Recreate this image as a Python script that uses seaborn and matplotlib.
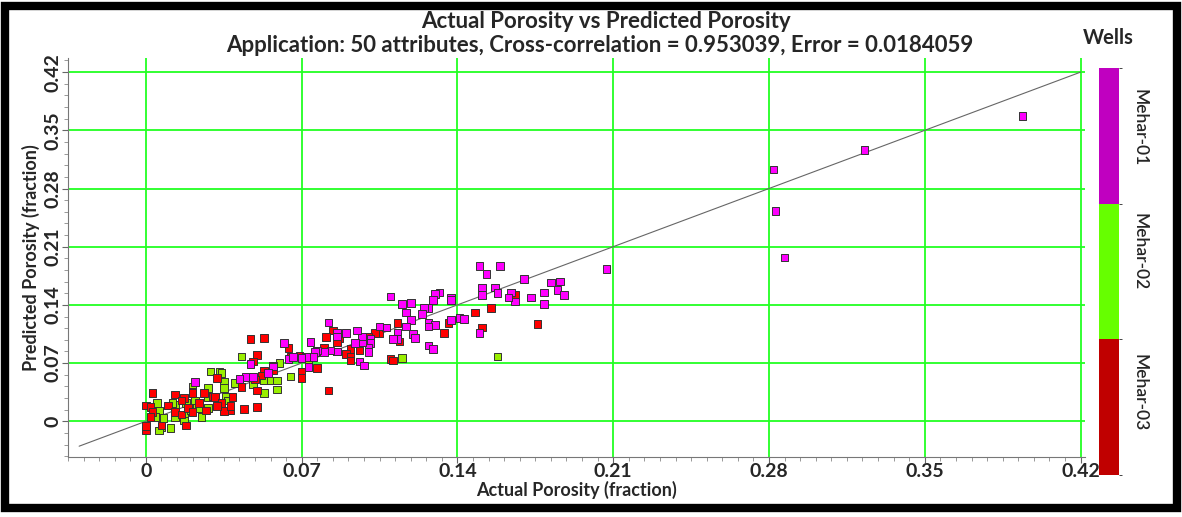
import matplotlib
matplotlib.use("Agg")
import matplotlib.pyplot as plt
import numpy as np
import pandas as pd
import seaborn as sns
from matplotlib.colors import ListedColormap, BoundaryNorm
from matplotlib.cm import ScalarMappable
from matplotlib.patches import Rectangle
from matplotlib.ticker import MultipleLocator

# ---- data: actual vs predicted porosity per well ----
wells = ["Mehar-01", "Mehar-02", "Mehar-03"]

actual_01 = [0.394, 0.323, 0.282, 0.283, 0.287, 0.207,
             0.170, 0.182, 0.186, 0.185, 0.188, 0.179, 0.173, 0.179, 0.166, 0.164,
             0.150, 0.159, 0.153, 0.151, 0.157, 0.151, 0.158, 0.163, 0.150,
             0.141, 0.143, 0.137, 0.132, 0.130, 0.129, 0.137, 0.137, 0.127, 0.125,
             0.119, 0.115, 0.117, 0.124, 0.119, 0.117, 0.127, 0.130, 0.127, 0.120,
             0.121, 0.127, 0.129,
             0.110, 0.113, 0.113, 0.111, 0.108, 0.105, 0.101, 0.101, 0.100, 0.100,
             0.097, 0.097, 0.095, 0.094, 0.096, 0.098, 0.090, 0.086, 0.086, 0.082,
             0.086, 0.083, 0.080, 0.077, 0.076, 0.075, 0.074, 0.072, 0.070, 0.066,
             0.073, 0.062, 0.064, 0.066, 0.047, 0.057, 0.055, 0.045, 0.048, 0.042,
             0.022]
predicted_01 = [0.367, 0.326, 0.303, 0.253, 0.197, 0.183,
                0.171, 0.167, 0.168, 0.158, 0.152, 0.155, 0.149, 0.141, 0.144, 0.155,
                0.187, 0.187, 0.177, 0.161, 0.161, 0.152, 0.154, 0.149, 0.106,
                0.124, 0.123, 0.122, 0.155, 0.153, 0.146, 0.149, 0.146, 0.136, 0.136,
                0.142, 0.141, 0.131, 0.129, 0.122, 0.114, 0.119, 0.116, 0.114, 0.105,
                0.100, 0.091, 0.087,
                0.150, 0.106, 0.099, 0.099, 0.113, 0.114, 0.099, 0.094, 0.088, 0.083,
                0.095, 0.102, 0.109, 0.094, 0.072, 0.067, 0.106, 0.106, 0.102, 0.119,
                0.084, 0.085, 0.083, 0.085, 0.083, 0.077, 0.095, 0.077, 0.076, 0.078,
                0.065, 0.094, 0.075, 0.077, 0.069, 0.066, 0.058, 0.053, 0.053, 0.051,
                0.047]

actual_02 = [0.158, 0.115, 0.073, 0.065, 0.043, 0.060, 0.057, 0.053, 0.056, 0.059,
             0.059, 0.053, 0.048, 0.040, 0.036, 0.035, 0.033, 0.029, 0.028, 0.021,
             0.034, 0.035, 0.028, 0.037, 0.005, 0.013, 0.006, 0.004, 0.017, 0.007,
             0.011, 0.013, 0.020, 0.023, 0.025, 0.022, 0.006, 0.012, 0.018, 0.017,
             0.024, 0.028, 0.025, 0.008]
predicted_02 = [0.078, 0.076, 0.073, 0.054, 0.078, 0.070, 0.067, 0.049, 0.049, 0.049,
                0.038, 0.034, 0.045, 0.046, 0.029, 0.047, 0.059, 0.060, 0.040, 0.042,
                0.058, 0.040, 0.029, 0.025, 0.022, 0.020, 0.013, 0.005, 0.008, -0.007,
                -0.008, 0.005, 0.013, 0.017, 0.010, 0.025, -0.011, 0.022, 0.022, 0.001,
                0.016, 0.016, 0.005, 0.004]

actual_03 = [0.176, 0.166, 0.155, 0.148, 0.151, 0.136, 0.134, 0.114, 0.113, 0.110,
             0.111, 0.105, 0.103, 0.100, 0.096, 0.092, 0.090, 0.092, 0.092, 0.087,
             0.086, 0.084, 0.081, 0.086, 0.080, 0.069, 0.065, 0.077, 0.070, 0.070,
             0.082, 0.047, 0.053, 0.064, 0.050, 0.048, 0.057, 0.053, 0.052, 0.050,
             0.049, 0.043, 0.039, 0.032, 0.021, 0.030,
             0.003, 0.013, 0.017, 0.021, 0.026, 0.031, 0.034, 0.038, 0.035, 0.000,
             0.002, 0.003, 0.002, 0.007, 0.000, 0.000, 0.010, 0.013, 0.016, 0.019,
             0.018, 0.021, 0.027, 0.024, 0.016, 0.044, 0.050, 0.038, 0.032]
predicted_03 = [0.117, 0.152, 0.136, 0.131, 0.113, 0.118, 0.106, 0.096, 0.118, 0.075,
                0.073, 0.106, 0.106, 0.101, 0.085, 0.087, 0.081, 0.077, 0.073, 0.100,
                0.095, 0.109, 0.101, 0.084, 0.088, 0.079, 0.078, 0.064, 0.060, 0.052,
                0.037, 0.099, 0.100, 0.088, 0.080, 0.072, 0.061, 0.061, 0.055, 0.037,
                0.050, 0.041, 0.029, 0.052, 0.035, 0.030,
                0.034, 0.032, 0.028, 0.034, 0.034, 0.029, 0.022, 0.013, 0.012, 0.019,
                0.017, 0.011, 0.005, -0.005, -0.011, -0.006, 0.019, 0.011, 0.008, 0.016,
                -0.005, 0.011, 0.013, 0.022, 0.025, 0.015, 0.017, 0.018, 0.018]

ref_line = [-0.03, 0.42]          # one-to-one reference line end points
tick_values = [0.0, 0.07, 0.14, 0.21, 0.28, 0.35, 0.42]
tick_labels = ["0", "0.07", "0.14", "0.21", "0.28", "0.35", "0.42"]

title_1 = "Actual Porosity vs Predicted Porosity"
title_2 = "Application: 50 attributes, Cross-correlation = 0.953039, Error = 0.0184059"

# ---- styling ----
point_colors = {"Mehar-01": "#ff00ff", "Mehar-02": "#99ee00", "Mehar-03": "#ff0000"}
bar_colors = ["#c00000", "#66ff00", "#c000c0"]   # bottom -> top

sns.set_style("white")
plt.rcParams["font.family"] = ["Lato", "DejaVu Sans"]

df = pd.concat([
    pd.DataFrame({"actual": actual_02, "predicted": predicted_02, "well": wells[1]}),
    pd.DataFrame({"actual": actual_03, "predicted": predicted_03, "well": wells[2]}),
    pd.DataFrame({"actual": actual_01, "predicted": predicted_01, "well": wells[0]}),
], ignore_index=True)

W, H = 1182, 517
fig = plt.figure(figsize=(W / 100, H / 100), dpi=100)
ax = fig.add_axes([68 / W, 1 - 457 / H, (1085 - 68) / W, (457 - 58) / H])

ax.set_axisbelow(True)
ax.grid(True, which="major", color="#22ff22", linewidth=1.3)

ax.plot(ref_line, ref_line, color="#666666", linewidth=0.8, zorder=2)

sns.scatterplot(data=df, x="actual", y="predicted", hue="well", palette=point_colors,
                marker="s", s=30, edgecolor="#333333", linewidth=0.7,
                legend=False, ax=ax, zorder=3)

ax.set_xlim(-0.035, 0.422)
ax.set_ylim(-0.043, 0.437)
ax.set_xticks(tick_values)
ax.set_xticklabels(tick_labels)
ax.set_yticks(tick_values)
ax.set_yticklabels(tick_labels, rotation=90, va="center")
ax.xaxis.set_minor_locator(MultipleLocator(0.007))
ax.yaxis.set_minor_locator(MultipleLocator(0.014))
ax.tick_params(which="major", length=4, width=0.8, color="#666666",
               labelsize=14, bottom=True, left=True)
ax.tick_params(axis="x", which="major", pad=0)
ax.tick_params(axis="y", which="major", pad=1)
ax.tick_params(which="minor", length=3, width=0.6, color="#888888", bottom=True, left=True)
for lab in ax.get_xticklabels() + ax.get_yticklabels():
    lab.set_fontweight("bold")

for side in ("top", "right"):
    ax.spines[side].set_visible(False)
for side in ("left", "bottom"):
    ax.spines[side].set_color("#777777")
    ax.spines[side].set_linewidth(0.8)

ax.set_xlabel("Actual Porosity (fraction)", fontsize=13, fontweight="bold", labelpad=1)
ax.set_ylabel("Predicted Porosity (fraction)", fontsize=13, fontweight="bold", labelpad=3)

fig.text(606 / W, 1 - 22 / H, title_1, ha="center", va="center",
         fontsize=16, fontweight="bold")
fig.text(600 / W, 1 - 45 / H, title_2, ha="center", va="center",
         fontsize=16, fontweight="bold")

# ---- well colour bar ----
cax = fig.add_axes([1099 / W, 1 - 475 / H, 20 / W, (475 - 68) / H])
cmap = ListedColormap(bar_colors)
norm = BoundaryNorm([0, 1, 2, 3], cmap.N)
cb = fig.colorbar(ScalarMappable(norm=norm, cmap=cmap), cax=cax)
cb.outline.set_visible(False)
cb.set_ticks([0.61, 1.65, 2.56])
cb.set_ticklabels(wells[::-1])
cax.tick_params(length=0, pad=9, labelsize=12.5)
for lab in cax.get_yticklabels():
    lab.set_rotation(-90)
    lab.set_va("center")
    lab.set_fontweight("semibold")
fig.text(1108 / W, 1 - 38 / H, "Wells", ha="center", va="center",
         fontsize=14.5, fontweight="bold")

# ---- outer frame ----
fig.patches.append(Rectangle((5 / W, 1 - 508 / H), 1171.5 / W, 502 / H,
                             transform=fig.transFigure, fill=False,
                             edgecolor="black", linewidth=6))

fig.savefig("out.png", dpi=100, facecolor="white")
